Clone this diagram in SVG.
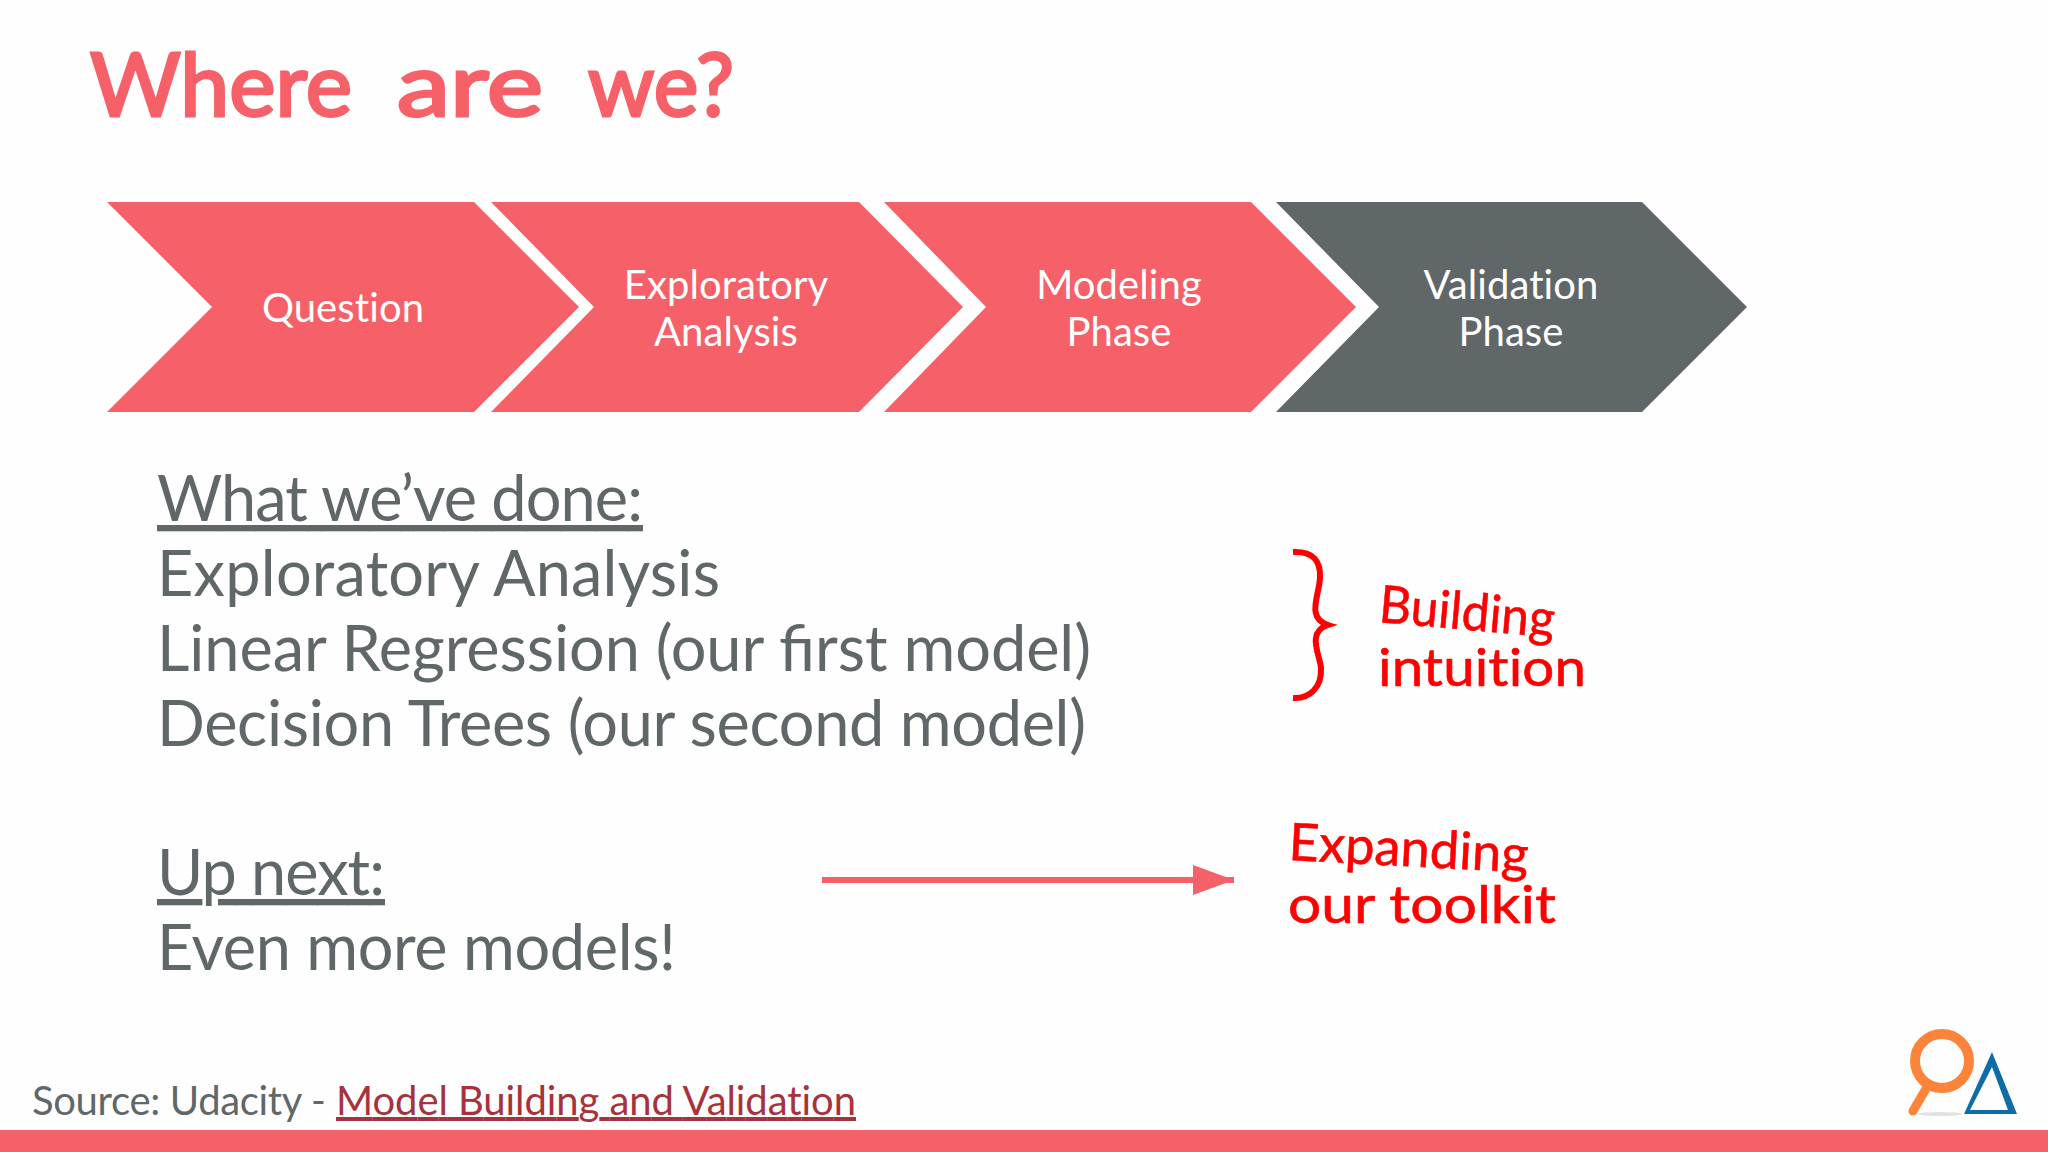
<svg xmlns="http://www.w3.org/2000/svg" width="2048" height="1152" viewBox="0 0 2048 1152">
<style>
.c{font-family:Lato,"Liberation Sans",sans-serif;font-size:40px;fill:#fff;text-anchor:middle;letter-spacing:.1px}
.b{font-family:Lato,"Liberation Sans",sans-serif;font-size:63px;fill:#5f6769}
.h{font-family:Lato,"Open Sans",sans-serif;font-size:52px;fill:#fe0000;stroke:#fe0000;stroke-width:.6;letter-spacing:.1px}
.t{font-family:Lato,"Open Sans",sans-serif;font-size:88px;fill:#f66068;stroke:#f66068;stroke-width:3}
.u{text-decoration:underline}
</style>
<defs><marker id="ah" markerUnits="userSpaceOnUse" markerWidth="42" markerHeight="30" refX="41" refY="15" orient="auto"><path d="M0 0L41 15L0 30Z" fill="#f66068"/></marker></defs>
<rect width="2048" height="1152" fill="#fefefe"/>
<g id="title" class="t"><text x="90" y="116" textLength="262" lengthAdjust="spacingAndGlyphs">Where</text><text x="397" y="116" textLength="146" lengthAdjust="spacingAndGlyphs">are</text><text x="588" y="116" textLength="146" lengthAdjust="spacingAndGlyphs">we?</text></g>
<g id="node-question"><path d="M107 202L474 202L579 307L474 412L107 412L212 307Z" fill="#f66068"/><text class="c" x="343" y="322">Question</text></g>
<g id="node-exploratory"><path d="M491 202L859 202L963 307L859 412L491 412L594 307Z" fill="#f66068"/><text class="c" x="726" y="299">Exploratory</text><text class="c" x="726" y="346">Analysis</text></g>
<g id="node-modeling"><path d="M884 202L1251 202L1356 307L1251 412L884 412L986 307Z" fill="#f66068"/><text class="c" x="1119" y="299">Modeling</text><text class="c" x="1119" y="346">Phase</text></g>
<g id="node-validation"><path d="M1276 202L1642 202L1747 307L1642 412L1276 412L1379 307Z" fill="#5f6769"/><text class="c" x="1511" y="299">Validation</text><text class="c" x="1511" y="346">Phase</text></g>
<g id="body">
<text class="b u" x="157" y="521" textLength="486">What we’ve done:</text>
<text class="b" x="157" y="596" textLength="563">Exploratory Analysis</text>
<text class="b" x="157" y="671" textLength="934">Linear Regression (our first model)</text>
<text class="b" x="157" y="746" textLength="929">Decision Trees (our second model)</text>
<text class="b u" x="157" y="895" textLength="228">Up next:</text>
<text class="b" x="157" y="970" textLength="519">Even more models!</text>
</g>
<g id="connectors"><line x1="822" y1="880" x2="1234" y2="880" stroke="#f66068" stroke-width="6" marker-end="url(#ah)"/></g>
<g id="note-building">
<path d="M1293 552C1313 551 1321 561 1320 578C1319 596 1306 618 1328 625C1306 632 1320 655 1321 668C1322 687 1310 699 1293 698" fill="none" stroke="#fe0000" stroke-width="6"/>
<text class="h" x="1378" y="622" textLength="176" lengthAdjust="spacingAndGlyphs" transform="rotate(5 1378 622)">Building</text>
<text class="h" x="1378" y="686" textLength="208" lengthAdjust="spacingAndGlyphs">intuition</text>
</g>
<g id="note-expanding">
<text class="h" x="1288" y="860" textLength="240" lengthAdjust="spacingAndGlyphs" transform="rotate(3 1288 860)">Expanding</text>
<text class="h" x="1288" y="923" textLength="268" lengthAdjust="spacingAndGlyphs">our toolkit</text>
</g>
<text id="source" y="1115" font-family="Lato,'Liberation Sans',sans-serif" font-size="40" fill="#5f6769" letter-spacing=".05"><tspan x="32" textLength="294">Source: Udacity -</tspan> <tspan x="336" textLength="520" fill="#a8323c" text-decoration="underline">Model Building and Validation</tspan></text>
<rect id="footer" y="1130" width="2048" height="22" fill="#f66068"/>
<g id="logo"><ellipse cx="1940" cy="1114" rx="22" ry="2" fill="#e3e3e3"/><circle cx="1942" cy="1061" r="27" fill="none" stroke="#fb843a" stroke-width="10"/><line x1="1927" y1="1087" x2="1913" y2="1111" stroke="#fb843a" stroke-width="9" stroke-linecap="round"/><path fill-rule="evenodd" d="M1992 1052L2017 1114H1964ZM1992 1067L1970 1110H2008Z" fill="#0e6ca8"/></g>
</svg>
